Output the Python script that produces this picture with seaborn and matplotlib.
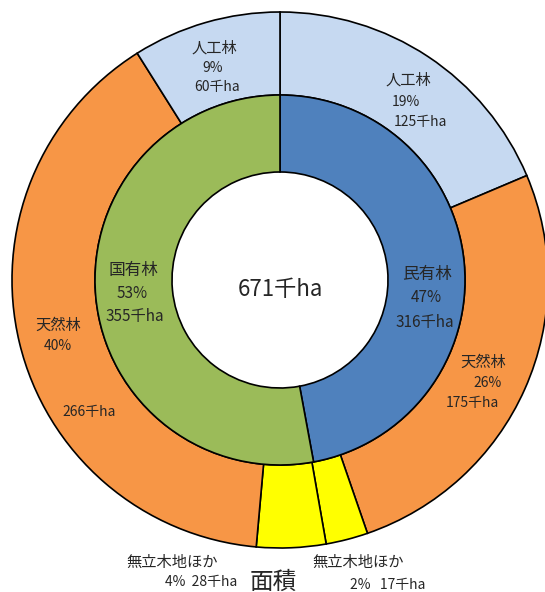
import matplotlib.pyplot as plt
import seaborn as sns

# inner ring: ownership (clockwise from top)
inner_names = ["民有林", "国有林"]
inner_values = [316, 355]
inner_pct = ["47%", "53%"]

# outer ring: forest type within each ownership (clockwise from top)
outer_names = ["人工林", "天然林", "無立木地ほか", "無立木地ほか", "天然林", "人工林"]
outer_values = [125, 175, 17, 28, 266, 60]
outer_pct = ["19%", "26%", "2%", "4%", "40%", "9%"]

total_label = "671千ha"
caption = "面積"

sns.set_theme(style="white")
plt.rcParams["font.family"] = ["Noto Sans CJK JP", "DejaVu Sans"]

inner_colors = ["#4F81BD", "#9BBB59"]
outer_colors = ["#C6D9F1", "#F79646", "#FFFF00", "#FFFF00", "#F79646", "#C6D9F1"]

W, H = 545, 592
fig = plt.figure(figsize=(W / 100, H / 100), dpi=100)
ax = fig.add_axes([0, 0, 1, 1])

cx, cy = 280, H - 280
wedge = dict(edgecolor="black", linewidth=1.2)
ax.pie(outer_values, radius=268, center=(cx, cy), colors=outer_colors,
       startangle=90, counterclock=False, wedgeprops=dict(width=83, **wedge))
ax.pie(inner_values, radius=185, center=(cx, cy), colors=inner_colors,
       startangle=90, counterclock=False, wedgeprops=dict(width=77, **wedge))

ax.set_xlim(0, W)
ax.set_ylim(0, H)
ax.set_aspect("equal")
ax.axis("off")


def put(x, y, s, size=11, **kw):
    ax.text(x, H - y, s, fontsize=size, ha="center", va="center", **kw)


# inner labels
put(427, 275, inner_names[0], 12)
put(426, 298, inner_pct[0], 11)
put(425, 322, f"{inner_values[0]}千ha", 11)
put(133, 270, inner_names[1], 12)
put(132, 293, inner_pct[1], 11)
put(135, 317, f"{inner_values[1]}千ha", 11)

# outer labels
put(408, 80, outer_names[0], 11)
put(406, 102, outer_pct[0], 10)
put(420, 122, f"{outer_values[0]}千ha", 10)

put(483, 362, outer_names[1], 11)
put(488, 383, outer_pct[1], 10)
put(472, 403, f"{outer_values[1]}千ha", 10)

put(358, 562, outer_names[2], 11)
put(388, 585, f"{outer_pct[2]}   {outer_values[2]}千ha", 10)

put(172, 562, outer_names[3], 11)
put(201, 582, f"{outer_pct[3]}  {outer_values[3]}千ha", 10)

put(58, 325, outer_names[4], 11)
put(58, 346, outer_pct[4], 10)
put(89, 412, f"{outer_values[4]}千ha", 10)

put(214, 48, outer_names[5], 11)
put(213, 68, outer_pct[5], 10)
put(217, 87, f"{outer_values[5]}千ha", 10)

put(cx, 290, total_label, 16)
put(273, 582, caption, 17)

fig.savefig("out.png", dpi=100)
